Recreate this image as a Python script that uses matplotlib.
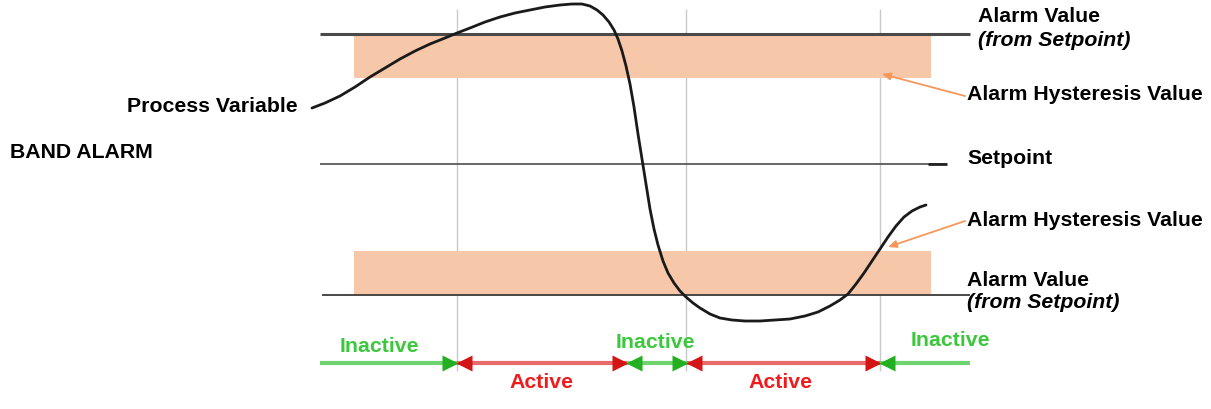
from matplotlib import pyplot as plt

plt.rcParams['font.family'] = ['Liberation Sans', 'DejaVu Sans']

# process variable (time, value relative to setpoint)
pv_time = [312, 325, 340, 355, 370, 385, 400, 415, 430, 445, 457, 470, 485, 500, 515,
           530, 545, 560, 572, 582, 590, 597, 603, 609, 614, 618, 622, 626, 630, 634,
           638, 642, 646, 650, 654, 658, 663, 668, 674, 680, 686, 693, 700, 710, 720,
           732, 745, 760, 775, 790, 805, 818, 830, 840, 848, 856, 864, 872, 880, 888,
           896, 904, 912, 920, 926]
pv_value = [56, 61, 68, 77, 87, 96, 105, 113, 120, 126, 131, 136, 142, 147, 151,
            154, 157, 159, 160, 160, 158, 154, 149, 142, 134, 125, 113, 98, 80, 57,
            30, 5, -20, -45, -65, -81, -97, -109, -119, -127, -133, -139, -144, -150, -154,
            -156, -157, -157, -156, -155, -152, -148, -142, -136, -130, -120, -109, -97, -85, -73,
            -62, -53, -47, -43, -41]

setpoint = 0
alarm_high = 130
alarm_low = -131
hysteresis = 44

# state changes along the time axis
transitions = [457, 686, 880]
state_edges = [320, 457, 627, 687, 880, 970]
states = ['Inactive', 'Active', 'Inactive', 'Active', 'Inactive']

GREEN = '#3cc83c'
RED = '#ee1c1c'
BAND = '#f7c7aa'
ORANGE = '#f7975c'


def py(pix):
    # picture row -> value (setpoint row is 165)
    return 165 - pix


fig = plt.figure(figsize=(12.11, 4.10), dpi=100)
ax = fig.add_axes([0, 0, 1, 1])
ax.set_xlim(0, 1211)
ax.set_ylim(py(410), py(0))
ax.axis('off')

# hysteresis bands
ax.fill_between([354, 931], alarm_high - hysteresis, alarm_high, color=BAND, lw=0, zorder=1)
ax.fill_between([354, 931], alarm_low, alarm_low + hysteresis, color=BAND, lw=0, zorder=1)

# transition markers
for t in transitions:
    ax.vlines(t, py(372), py(10), colors='#c8c8c8', lw=1, zorder=0)

# alarm + setpoint lines
ax.hlines(alarm_high, 320, 970, colors='#4a4a4a', lw=2.2, zorder=2)
ax.hlines(alarm_low, 322, 970, colors='#3a3a3a', lw=1.3, zorder=2)
ax.hlines(setpoint, 320, 947, colors='#5a5a5a', lw=1.3, zorder=2)
ax.hlines(setpoint, 928, 947, colors='#222222', lw=2, zorder=2)

ax.plot(pv_time, pv_value, color='#1a1a1a', lw=2, zorder=3, solid_capstyle='round')

# state arrows
arrow_y = py(364)
n = len(states)
for i, st in enumerate(states):
    x0, x1 = state_edges[i], state_edges[i + 1]
    line_col = '#6fd36f' if st == 'Inactive' else '#e86a6a'
    head_col = '#22b022' if st == 'Inactive' else '#d41515'
    ax.hlines(arrow_y, x0, x1, colors=line_col, lw=3, zorder=2)
    if i > 0:
        ax.plot(x0 + 7, arrow_y, marker='<', ms=12, color=head_col, mec='none', zorder=3)
    if i < n - 1:
        ax.plot(x1 - 7, arrow_y, marker='>', ms=12, color=head_col, mec='none', zorder=3)

txt = dict(fontsize=15.3, fontweight='bold')
state_labels = [(379, 347), (541, 383), (655, 343), (780, 383), (950, 340)]
for st, (x, y) in zip(states, state_labels):
    ax.text(x, py(y), st, color=GREEN if st == 'Inactive' else RED,
            ha='center', va='center', **txt)

ax.text(298, py(107), 'Process Variable', ha='right', va='center', **txt)
ax.text(10, py(153), 'BAND ALARM', ha='left', va='center', **txt)

ax.text(978, py(16), 'Alarm Value', ha='left', va='center', **txt)
ax.text(978, py(40), '(from Setpoint)', ha='left', va='center', style='italic', **txt)
ax.text(967, py(95), 'Alarm Hysteresis Value', ha='left', va='center', **txt)
ax.text(967, py(158), 'Setpoint', ha='left', va='center', **txt)
ax.text(967, py(220), 'Alarm Hysteresis Value', ha='left', va='center', **txt)
ax.text(967, py(281), 'Alarm Value', ha='left', va='center', **txt)
ax.text(967, py(303), '(from Setpoint)', ha='left', va='center', style='italic', **txt)

arrow = dict(arrowstyle='-|>,head_length=0.5,head_width=0.22', color=ORANGE, lw=1.3,
             shrinkA=0, shrinkB=0)
ax.annotate('', xy=(882, py(75)), xytext=(965, py(97)), arrowprops=arrow, zorder=4)
ax.annotate('', xy=(888, py(248)), xytext=(965, py(222)), arrowprops=arrow, zorder=4)

fig.savefig('out.png', dpi=100)
